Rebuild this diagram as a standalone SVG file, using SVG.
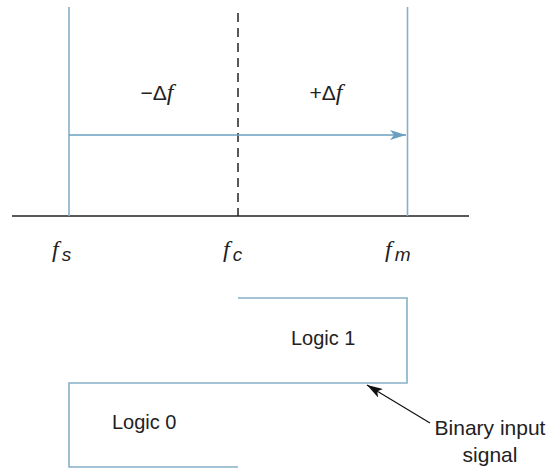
<svg xmlns="http://www.w3.org/2000/svg" width="548" height="470" viewBox="0 0 548 470">
<defs>
<style>
.blue{stroke:#86b0c8;stroke-width:1.6;fill:none}
.blk{stroke:#222;stroke-width:1.5;fill:none}
.t{font-family:"Liberation Sans",Arial,sans-serif;font-size:20px;fill:#222}
.m{font-family:"Liberation Sans",Arial,sans-serif;font-size:21px;fill:#222}
.f{font-family:"Liberation Serif","Times New Roman",serif;font-style:italic;font-size:24px}
.sub{font-family:"Liberation Sans",Arial,sans-serif;font-style:italic;font-size:19px}
</style>
<marker id="ab" viewBox="0 0 16 10" refX="16" refY="5" markerWidth="16" markerHeight="10" markerUnits="userSpaceOnUse" orient="auto">
<path d="M0,0 L16,5 L0,10 L4,5 Z" fill="#6a9fbf"/>
</marker>
<marker id="ak" viewBox="0 0 16 10" refX="16" refY="5" markerWidth="16" markerHeight="10" markerUnits="userSpaceOnUse" orient="auto">
<path d="M0,0 L16,5 L0,10 L4,5 Z" fill="#111"/>
</marker>
</defs>
<g id="axis">
<line class="blk" x1="12" y1="216" x2="469" y2="216"/>
</g>
<g id="fs-line"><line class="blue" x1="69" y1="7" x2="69" y2="216"/></g>
<g id="fc-line"><line class="blk" x1="238" y1="13" x2="238" y2="216" stroke-dasharray="9,6"/></g>
<g id="fm-line"><line class="blue" x1="407.5" y1="7" x2="407.5" y2="216"/></g>
<g id="connectors">
<line x1="69" y1="135" x2="406" y2="135" stroke="#6a9fbf" stroke-width="1.6" marker-end="url(#ab)"/>
<line x1="430" y1="423" x2="367" y2="385" stroke="#111" stroke-width="1.2" marker-end="url(#ak)"/>
</g>
<g id="labels">
<text class="m" x="157" y="100" text-anchor="middle">−Δ<tspan class="f">f</tspan></text>
<text class="m" x="326" y="100" text-anchor="middle">+Δ<tspan class="f">f</tspan></text>
<text class="m" x="52" y="257"><tspan class="f">f</tspan><tspan class="sub" dx="3" dy="4">s</tspan></text>
<text class="m" x="223" y="257"><tspan class="f">f</tspan><tspan class="sub" dx="3" dy="4">c</tspan></text>
<text class="m" x="385" y="257"><tspan class="f">f</tspan><tspan class="sub" dx="3" dy="4">m</tspan></text>
</g>
<g id="signal">
<polyline class="blue" points="238,298 407,298 407,383 69,383 69,467 238,467"/>
</g>
<g id="logic1"><text class="t" x="291" y="345">Logic 1</text></g>
<g id="logic0"><text class="t" x="112" y="429">Logic 0</text></g>
<g id="binary-label">
<text class="t" x="490" y="435" text-anchor="middle" style="font-size:21px">Binary input</text>
<text class="t" x="490" y="462" text-anchor="middle" style="font-size:21px">signal</text>
</g>
</svg>
